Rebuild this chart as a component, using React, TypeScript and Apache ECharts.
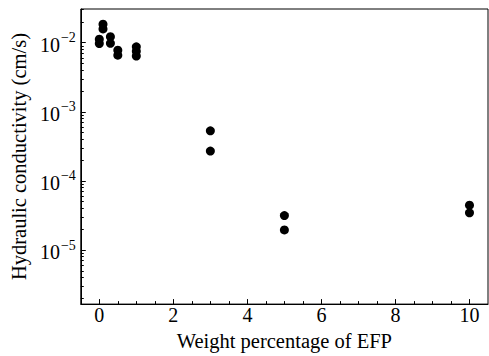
import React, { useEffect, useRef } from "react";
import * as echarts from "echarts";

const weightPct = [0, 0, 0.1, 0.1, 0.3, 0.3, 0.5, 0.5, 1, 1, 1, 3, 3, 5, 5, 10, 10];
const conductivity = [
  0.0112, 0.0097, 0.0185, 0.0158, 0.0122, 0.0098, 0.0078, 0.0066, 0.0087, 0.0075, 0.0064,
  5.3e-4, 2.7e-4, 3.15e-5, 1.95e-5, 4.45e-5, 3.45e-5,
];
const xTickValues = [0, 2, 4, 6, 8, 10];
const xMinorTickValues = [0.5, 1, 1.5, 2.5, 3, 3.5, 4.5, 5, 5.5, 6.5, 7, 7.5, 8.5, 9, 9.5];
const yTickValues = [1e-5, 1e-4, 1e-3, 1e-2];
const yMinorTickValues: number[] = [];
for (let n = -6; n <= -2; n++) {
  for (let k = 2; k <= 9; k++) {
    const v = k * Math.pow(10, n);
    if (v > 1.65e-6 && v < 0.0307) yMinorTickValues.push(v);
  }
}

const FONT = "'Liberation Serif', serif";

export default function App() {
  const ref = useRef<HTMLDivElement>(null);
  useEffect(() => {
    if (!ref.current) return;
    const chart = echarts.init(ref.current, undefined, { renderer: "svg" });
    const data = weightPct.map((x, i) => [x, conductivity[i]]);
    chart.setOption({
      animation: false,
      backgroundColor: "#fff",
      textStyle: { fontFamily: FONT, color: "#000" },
      grid: {
        left: 78,
        right: 1,
        top: 9,
        bottom: 46,
        show: true,
        borderColor: "#000",
        borderWidth: 1,
        backgroundColor: "transparent",
      },
      xAxis: [
        {
          type: "value",
          min: -0.5,
          max: 10.5,
          position: "bottom",
          axisLine: { show: true, onZero: false, lineStyle: { color: "#000", width: 1 } },
          splitLine: { show: false },
          axisTick: { show: true, inside: true, length: 5, customValues: xTickValues, lineStyle: { color: "#000" } },
          axisLabel: {
            customValues: xTickValues,
            fontFamily: FONT,
            fontSize: 20,
            color: "#000",
            margin: 1,
          },
          name: "Weight percentage of EFP",
          nameLocation: "middle",
          nameGap: 15,
          nameTextStyle: { fontFamily: FONT, fontSize: 20.5, color: "#000" },
        },
        {
          type: "value",
          min: -0.5,
          max: 10.5,
          position: "bottom",
          name: "",
          axisLine: { show: false, onZero: false },
          splitLine: { show: false },
          axisTick: { show: true, inside: true, length: 3, customValues: xMinorTickValues, lineStyle: { color: "#000" } },
          axisLabel: { show: false },
        },
      ],
      yAxis: [
        {
          type: "log",
          logBase: 10,
          min: 1.65e-6,
          max: 0.0307,
          position: "left",
          axisLine: { show: true, onZero: false, lineStyle: { color: "#000", width: 1 } },
          splitLine: { show: false },
          axisTick: { show: true, inside: true, length: 5, customValues: yTickValues, lineStyle: { color: "#000" } },
          axisLabel: {
            customValues: yTickValues,
            color: "#000",
            margin: 5,
            formatter: (v: number) => {
              const e = Math.round(Math.log10(v));
              return `{b|10}{e|\u2212${-e}}`;
            },
            rich: {
              b: { fontFamily: FONT, fontSize: 20, color: "#000", lineHeight: 24, verticalAlign: "bottom" },
              e: { fontFamily: FONT, fontSize: 14, color: "#000", lineHeight: 24, verticalAlign: "top", padding: [0, 0, 9, 1] },
            },
          },
          name: "Hydraulic conductivity (cm/s)",
          nameLocation: "middle",
          nameGap: 48,
          nameTextStyle: { fontFamily: FONT, fontSize: 20.5, color: "#000" },
        },
        {
          type: "log",
          logBase: 10,
          min: 1.65e-6,
          max: 0.0307,
          position: "left",
          name: "",
          axisLine: { show: false, onZero: false },
          splitLine: { show: false },
          axisTick: { show: true, inside: true, length: 3, customValues: yMinorTickValues, lineStyle: { color: "#000" } },
          axisLabel: { show: false },
        },
      ],
      series: [
        {
          type: "scatter",
          xAxisIndex: 0,
          yAxisIndex: 0,
          data,
          symbol: "circle",
          symbolSize: 9,
          itemStyle: { color: "#000", opacity: 1 },
        },
      ],
    });
    return () => chart.dispose();
  }, []);
  return <div ref={ref} style={{ position: "fixed", left: 0, top: 0, width: 489, height: 356 }} />;
}
